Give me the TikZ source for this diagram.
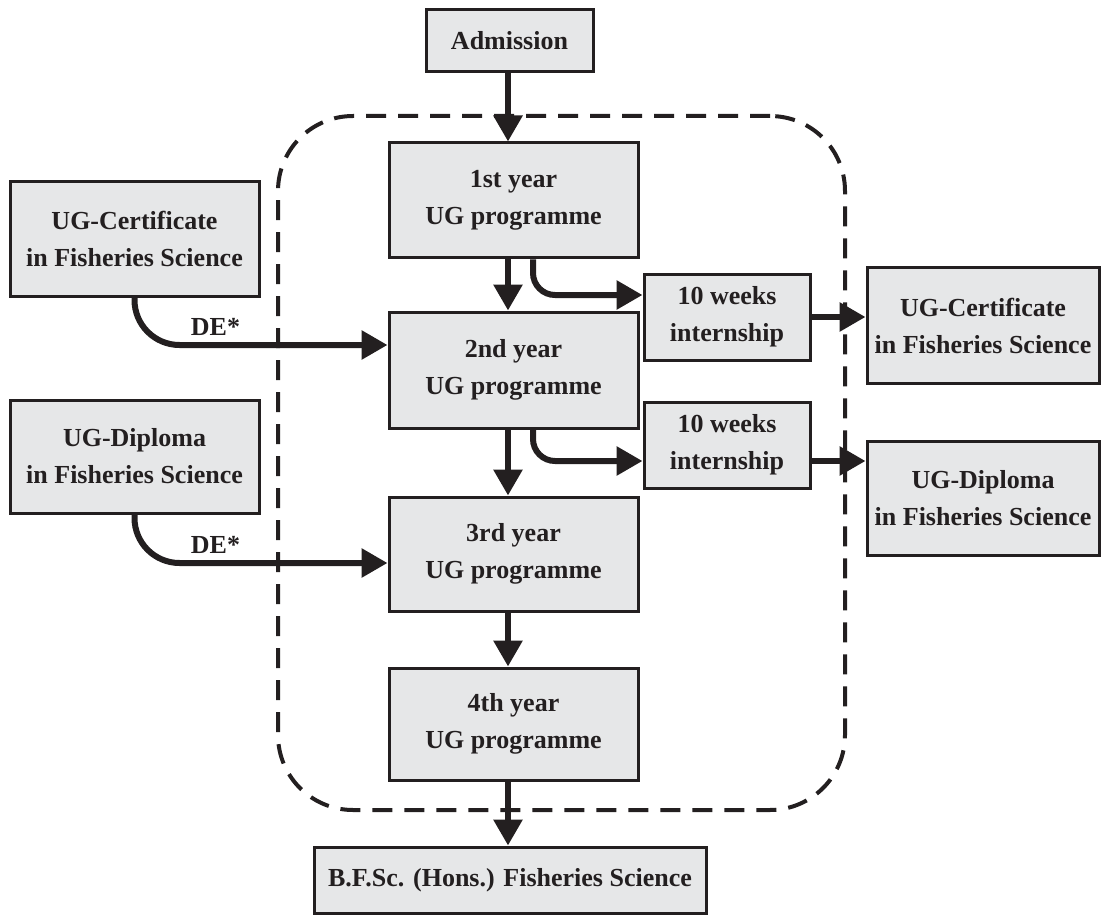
\documentclass[tikz,border=0pt]{standalone}
\usepackage{fontspec}
\setmainfont{Liberation Serif}
\usetikzlibrary{arrows.meta}
\definecolor{ink}{HTML}{231F20}
\definecolor{boxfill}{HTML}{E6E7E8}
\begin{document}
\begin{tikzpicture}[x=1pt,y=-1pt,
  font=\fontsize{26}{37}\selectfont\bfseries,
  box/.style={draw=ink, fill=boxfill, line width=3pt, align=center, inner sep=0pt, text=ink},
  arr/.style={draw=ink, line width=6pt, -{Triangle[width=28pt,length=26pt]}},
  group/.style={draw=ink, line width=4pt, dash pattern=on 20pt off 12pt, rounded corners=75pt, inner sep=0pt}
]
\useasboundingbox (0,0) rectangle (1106,920);
% dashed group
\node[group, minimum width=567pt, minimum height=694pt] (grp) at (561.5,463) {};
% nodes
\node[box, minimum width=167pt, minimum height=62pt] (adm) at (509.5,41) {Admission};
\node[box, minimum width=249pt, minimum height=115pt] (y1) at (513.5,200.5) {1st year\\UG programme};
\node[box, minimum width=249pt, minimum height=116pt] (y2) at (513.5,370) {2nd year\\UG programme};
\node[box, minimum width=249pt, minimum height=114pt] (y3) at (513.5,554) {3rd year\\UG programme};
\node[box, minimum width=249pt, minimum height=112pt] (y4) at (513.5,724) {4th year\\UG programme};
\node[box, minimum width=392pt, minimum height=66pt] (bfsc) at (510,880) {B.F.Sc. (Hons.) Fisheries Science};
\node[box, minimum width=249pt, minimum height=114pt] (certL) at (134.5,239) {UG-Certificate\\in Fisheries Science};
\node[box, minimum width=249pt, minimum height=113pt] (dipL) at (134.5,456.5) {UG-Diploma\\in Fisheries Science};
\node[box, minimum width=166pt, minimum height=86pt] (int1) at (727,317) {10 weeks\\internship};
\node[box, minimum width=166pt, minimum height=86pt] (int2) at (727,445) {10 weeks\\internship};
\node[box, minimum width=232pt, minimum height=115pt] (certR) at (983,325.5) {UG-Certificate\\in Fisheries Science};
\node[box, minimum width=232pt, minimum height=114pt] (dipR) at (983,498) {UG-Diploma\\in Fisheries Science};
% vertical arrows
\draw[arr] ([xshift=-1.5pt]adm.south) -- ([xshift=-5.5pt]y1.north);
\draw[arr] ([xshift=-5.5pt]y1.south) -- ([xshift=-5.5pt]y2.north);
\draw[arr] ([xshift=-5.5pt]y2.south) -- ([xshift=-5.5pt]y3.north);
\draw[arr] ([xshift=-5.5pt]y3.south) -- ([xshift=-5.5pt]y4.north);
\draw[arr] ([xshift=-5.5pt]y4.south) -- ([xshift=-2pt]bfsc.north);
% branches to internships
\draw[arr, rounded corners=22pt] ([xshift=19.5pt]y1.south) |- ([yshift=22pt]int1.west);
\draw[arr, rounded corners=22pt] ([xshift=19.5pt]y2.south) |- ([yshift=-16pt]int2.west);
% internships to exits
\draw[arr] (int1.east) -- (int1.east -| certR.west);
\draw[arr] ([yshift=-16pt]int2.east) -- ([yshift=-16pt]int2.east -| dipR.west);
% direct entry
\draw[arr, rounded corners=45pt] (certL.south) |- node[pos=0.66, above=3pt, text=ink] (de1) {DE*} ([yshift=25pt]y2.west);
\draw[arr, rounded corners=45pt] (dipL.south) |- node[pos=0.66, above=3pt, text=ink] (de2) {DE*} ([yshift=-9pt]y3.west);
\end{tikzpicture}
\end{document}
